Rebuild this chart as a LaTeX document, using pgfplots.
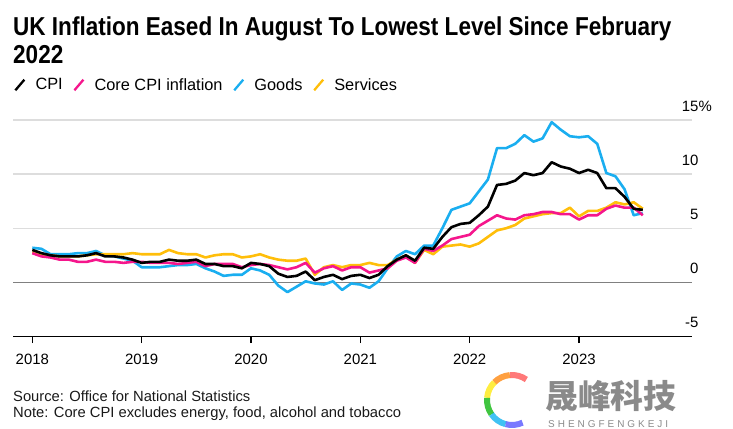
\documentclass[border=0pt]{standalone}
\usepackage{pgfplots}
\usepackage{pgfplotstable}
\pgfplotsset{compat=1.18}
\usepackage{fontspec}
\setmainfont{Liberation Sans}
\newfontfamily\titlefont{Liberation Sans}[FakeStretch=0.87]
\newfontfamily\cjk{Noto Sans CJK SC}
\newfontfamily\spaced{Liberation Sans}[LetterSpace=30]
\definecolor{cpicol}{HTML}{000000}
\definecolor{corecol}{HTML}{F5168C}
\definecolor{goodscol}{HTML}{1AAEF0}
\definecolor{servcol}{HTML}{FFBE0A}
\definecolor{gridcol}{HTML}{DDDDDD}
\definecolor{zerocol}{HTML}{808080}
\definecolor{wmgray}{HTML}{8A8A8A}

\pgfplotstableread{
m cpi core goods serv
0 3.0 2.7 3.2 2.8
1 2.7 2.4 3.1 2.6
2 2.5 2.3 2.6 2.5
3 2.4 2.1 2.6 2.4
4 2.4 2.1 2.6 2.4
5 2.4 1.9 2.7 2.4
6 2.5 1.9 2.7 2.5
7 2.7 2.1 2.9 2.6
8 2.4 1.9 2.5 2.6
9 2.4 1.9 2.4 2.6
10 2.3 1.8 2.2 2.6
11 2.1 1.9 2.0 2.7
12 1.8 1.9 1.4 2.6
13 1.9 1.8 1.4 2.6
14 1.9 1.8 1.4 2.6
15 2.1 1.8 1.5 3.0
16 2.0 1.7 1.6 2.7
17 2.0 1.8 1.6 2.6
18 2.1 1.9 1.7 2.6
19 1.7 1.5 1.3 2.3
20 1.7 1.7 1.0 2.5
21 1.5 1.7 0.6 2.6
22 1.5 1.7 0.7 2.6
23 1.3 1.4 0.7 2.3
24 1.8 1.6 1.3 2.4
25 1.7 1.7 1.1 2.6
26 1.5 1.6 0.7 2.3
27 0.8 1.4 -0.3 2.1
28 0.5 1.2 -0.9 2.0
29 0.6 1.4 -0.4 2.0
30 1.0 1.8 0.1 2.2
31 0.2 0.9 -0.1 0.7
32 0.5 1.3 -0.2 1.4
33 0.7 1.5 0.1 1.6
34 0.3 1.1 -0.7 1.4
35 0.6 1.4 -0.1 1.6
36 0.7 1.4 -0.2 1.6
37 0.4 0.9 -0.5 1.8
38 0.7 1.1 0.1 1.6
39 1.5 1.3 1.3 1.6
40 2.1 2.0 2.4 2.1
41 2.5 2.3 2.9 2.5
42 2.0 1.8 2.6 1.8
43 3.2 3.1 3.4 3.0
44 3.1 2.9 3.4 2.6
45 4.2 3.4 5.0 3.3
46 5.1 4.0 6.7 3.4
47 5.4 4.2 7.0 3.5
48 5.5 4.4 7.3 3.3
49 6.2 5.2 8.4 3.6
50 7.0 5.7 9.5 4.2
51 9.0 6.2 12.4 4.8
52 9.1 5.9 12.4 5.0
53 9.4 5.8 12.8 5.3
54 10.1 6.2 13.6 5.9
55 9.9 6.3 13.0 6.1
56 10.1 6.5 13.3 6.3
57 11.1 6.5 14.8 6.4
58 10.7 6.3 14.1 6.4
59 10.5 6.3 13.5 6.9
60 10.1 5.8 13.4 6.1
61 10.4 6.2 13.5 6.6
62 10.1 6.2 12.8 6.6
63 8.7 6.8 10.1 6.9
64 8.7 7.1 9.8 7.4
65 7.9 6.9 8.6 7.2
66 6.8 6.9 6.2 7.4
67 6.7 6.2 6.4 6.8
}\datatable

\begin{document}
\begin{tikzpicture}
\useasboundingbox (0,0) rectangle (733bp,429bp);
\node[anchor=base west, inner sep=0pt, font=\titlefont\bfseries\fontsize{26}{28}\selectfont] at (13bp,393.3bp) {UK Inflation Eased In August To Lowest Level Since February};
\node[anchor=base west, inner sep=0pt, font=\titlefont\bfseries\fontsize{26}{28}\selectfont] at (13bp,365.7bp) {2022};

\begin{axis}[
  at={(13bp,92.5bp)}, anchor=south west,
  scale only axis, width=679bp, height=216.5bp,
  xmin=-2.12, xmax=72.4, ymin=-5, ymax=15,
  axis line style={draw=none},
  clip=false,
  xtick={0,12,24,36,48,60},
  xticklabels={2018,2019,2020,2021,2022,2023},
  xtick pos=bottom,
  tick align=outside,
  major tick length=6.7bp,
  xtick style={black, line width=1.1bp},
  xticklabel style={font=\fontsize{15}{18}\selectfont, anchor=base, inner sep=0pt, yshift=-21.1bp},
  ytick={-5,0,5,10,15},
  yticklabels={-5,0,5,10,15\rlap{\%}},
  ytick style={draw=none},
  yticklabel pos=right,
  yticklabel style={font=\fontsize{15}{18}\selectfont, anchor=south east, inner sep=0pt, xshift=0bp, yshift=8.3bp},
  ymajorgrids,
  grid style={gridcol, line width=1.4bp},
  legend columns=-1,
  legend cell align=left,
  legend style={draw=none, fill=none, at={(axis description cs:0.0015,1.1617)}, anchor=west,
    inner sep=0pt, font=\fontsize{16.4}{19}\selectfont,
    nodes={inner sep=0pt},
    /tikz/every odd column/.append style={column sep=10bp},
    /tikz/every even column/.append style={column sep=10.5bp}},
  legend image code/.code={\draw[#1, line width=2.3bp] (0bp,-5.3bp) -- (9bp,5.3bp);},
]
\addlegendimage{cpicol}
\addlegendentry{CPI}
\addlegendimage{corecol}
\addlegendentry{Core CPI inflation}
\addlegendimage{goodscol}
\addlegendentry{Goods}
\addlegendimage{servcol}
\addlegendentry{Services}

\addplot[zerocol, line width=1.3bp, forget plot] coordinates {(-2.12,0) (72.4,0)};
\addplot[goodscol, line width=2.6bp, line join=round, forget plot] table[x=m, y=goods] {\datatable};
\addplot[servcol, line width=2.6bp, line join=round, forget plot] table[x=m, y=serv] {\datatable};
\addplot[corecol, line width=2.6bp, line join=round, forget plot] table[x=m, y=core] {\datatable};
\addplot[cpicol, line width=2.6bp, line join=round, forget plot] table[x=m, y=cpi] {\datatable};
\draw[black, line width=1.2bp] (rel axis cs:0,0) -- (rel axis cs:1,0);
\end{axis}

\node[anchor=base west, inner sep=0pt, text=black!90, font=\fontsize{14.8}{17}\selectfont] at (13bp,28bp) {Source: Office for National Statistics};
\node[anchor=base west, inner sep=0pt, text=black!90, font=\fontsize{14.8}{17}\selectfont] at (13bp,11.7bp) {Note: Core CPI excludes energy, food, alcohol and tobacco};

% watermark
\begin{scope}[line width=6bp, opacity=0.75]
\draw[color=red!70] ([shift=(55:25bp)]512bp,29bp) arc (55:95:25bp);
\draw[color=orange] ([shift=(95:25bp)]512bp,29bp) arc (95:135:25bp);
\draw[color=yellow!90!orange] ([shift=(135:25bp)]512bp,29bp) arc (135:175:25bp);
\draw[color=green!70!black] ([shift=(175:25bp)]512bp,29bp) arc (175:215:25bp);
\draw[color=cyan] ([shift=(215:25bp)]512bp,29bp) arc (215:255:25bp);
\draw[color=blue!70] ([shift=(255:25bp)]512bp,29bp) arc (255:295:25bp);
\end{scope}
\node[anchor=west, inner sep=0pt, text=wmgray, font=\cjk\bfseries\fontsize{33}{33}\selectfont] at (545bp,33bp) {晟峰科技};
\node[anchor=base west, inner sep=0pt, text=wmgray, font=\spaced\fontsize{10}{10}\selectfont] at (548bp,2bp) {SHENGFENGKEJI};
\end{tikzpicture}
\end{document}
